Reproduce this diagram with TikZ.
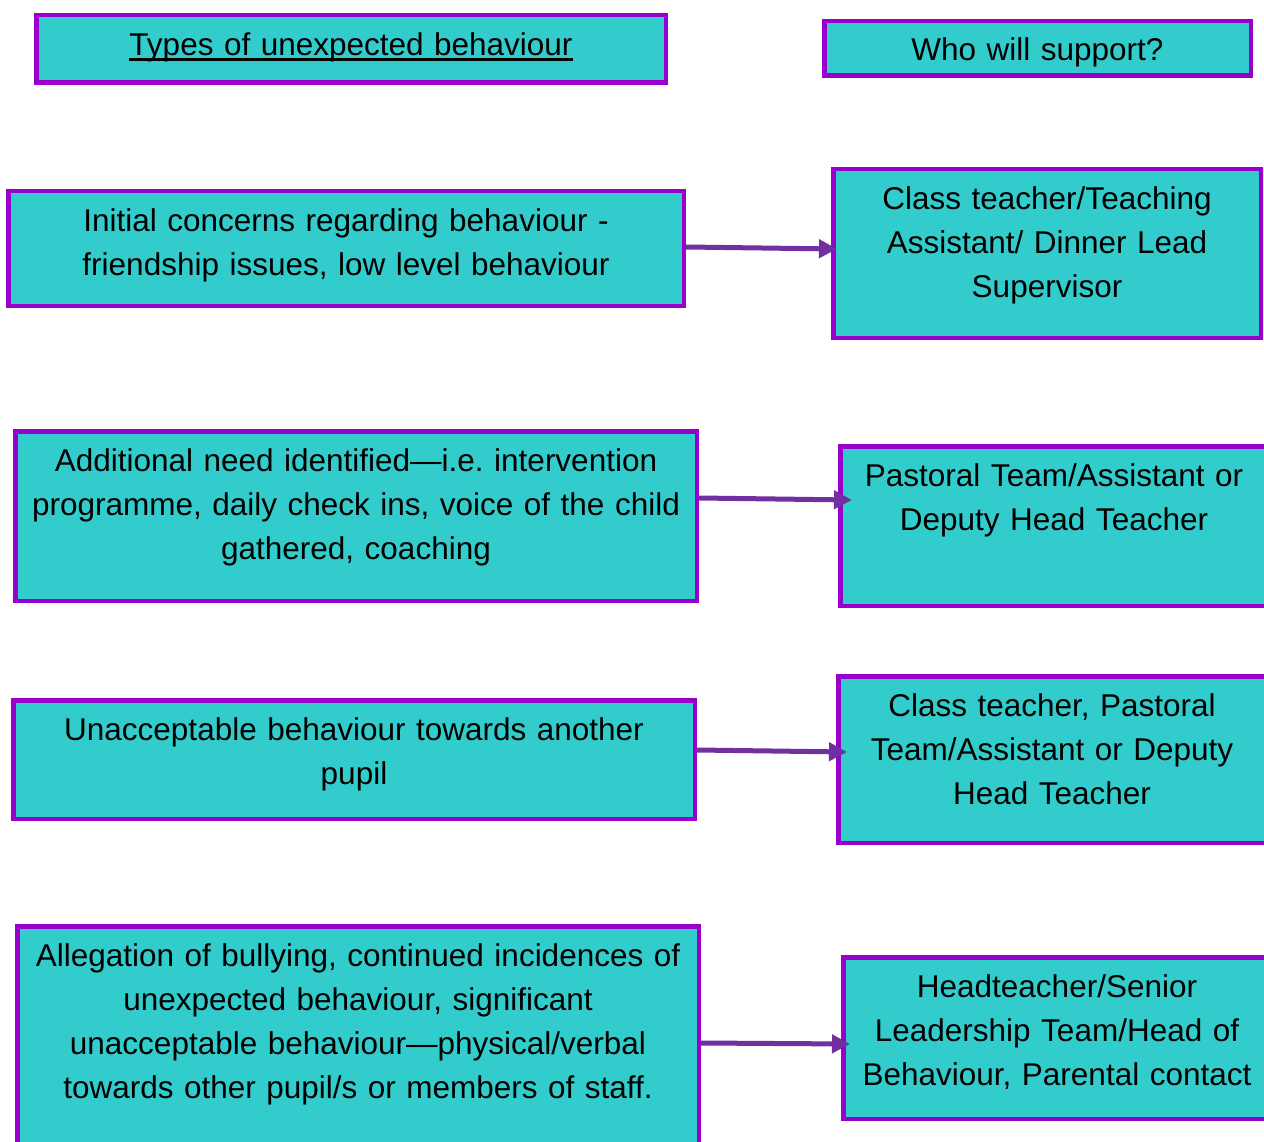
\documentclass[tikz,border=0pt]{standalone}
\usepackage{fontspec}
\setmainfont{Liberation Sans}
\usetikzlibrary{arrows.meta}
\definecolor{boxfill}{HTML}{33CCCC}
\definecolor{boxline}{HTML}{9900CC}
\definecolor{arrowcol}{HTML}{7030A0}
\newcommand\thickul[1]{\setbox0\hbox{#1}\rlap{\copy0}\rule[-6pt]{\wd0}{3pt}}

\begin{document}
\frenchspacing
\begin{tikzpicture}[x=1pt,y=-1pt,
    infobox/.style={draw=boxline, fill=boxfill, line width=4.5pt, anchor=north west,
      inner sep=0pt, align=center, text height=40pt,
      font=\fontsize{31.5}{44}\selectfont},
    link/.style={draw=arrowcol, line width=5pt, -{Triangle[length=18pt,width=18pt]}}]
    \useasboundingbox (0,0) rectangle (1264,1142);
    % headings
    \node[infobox, text width=629.5pt, text depth=27.5pt] (types) at (34,13)
      {\thickul{Types of unexpected behaviour}};
    \node[infobox, text width=426.5pt, text height=39pt, text depth=15.5pt] (who) at (822,19)
      {Who will support?};
    % behaviour boxes
    \node[infobox, text width=675.5pt, text depth=74.5pt] (low) at (6,189)
      {Initial concerns regarding behaviour -\\friendship issues, low level behaviour};
    \node[infobox, text width=681.5pt, text depth=129.5pt] (need) at (13,429)
      {Additional need identified—i.e. intervention\\programme, daily check ins, voice of the child\\gathered, coaching};
    \node[infobox, text width=681.5pt, text depth=78.5pt] (pupil) at (11,698)
      {Unacceptable behaviour towards another\\pupil};
    \node[infobox, text width=681.5pt, text depth=200pt] (bully) at (15,924)
      {Allegation of bullying, continued incidences of\\unexpected behaviour, significant\\unacceptable behaviour—physical/verbal\\towards other pupil/s or members of staff.};
    % support boxes
    \node[infobox, text width=427.5pt, text depth=128.5pt] (class) at (831,167)
      {Class teacher/Teaching\\Assistant/ Dinner Lead\\Supervisor};
    \node[infobox, text width=427.5pt, text depth=119.5pt] (pastoral) at (838,444)
      {Pastoral Team/Assistant or\\Deputy Head Teacher};
    \node[infobox, text width=427.5pt, text depth=126.5pt] (deputy) at (836,674)
      {Class teacher, Pastoral\\Team/Assistant or Deputy\\Head Teacher};
    \node[infobox, text width=427.5pt, text depth=121.5pt] (head) at (841,955)
      {Headteacher/Senior\\Leadership Team/Head of\\Behaviour, Parental contact};
    % arrows between boxes
    \draw[link] ([yshift=-58pt]low.north east) -- ([xshift=6pt,yshift=-82pt]class.north west);
    \draw[link] ([yshift=-69pt]need.north east) -- ([xshift=14pt,yshift=-56pt]pastoral.north west);
    \draw[link] ([yshift=-52pt]pupil.north east) -- ([xshift=11pt,yshift=-78pt]deputy.north west);
    \draw[link] ([yshift=-119pt]bully.north east) -- ([xshift=9pt,yshift=-89pt]head.north west);
\end{tikzpicture}
\end{document}
